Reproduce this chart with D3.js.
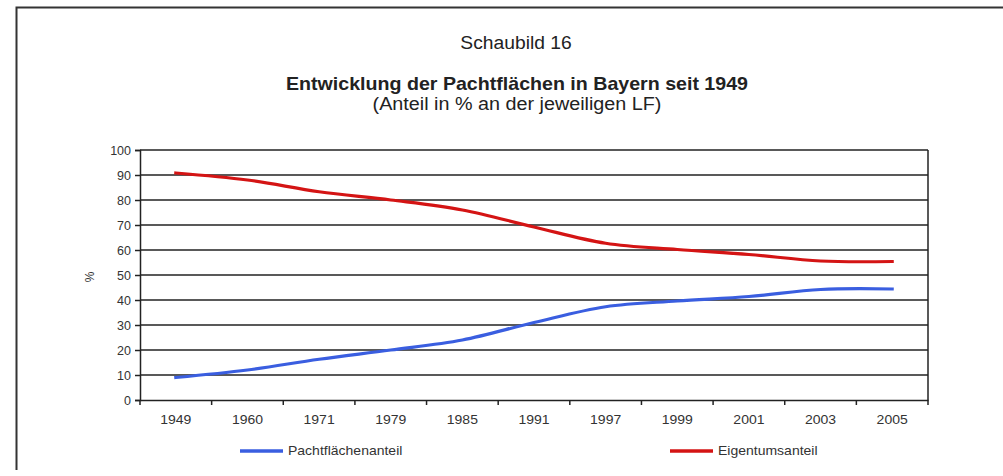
<!DOCTYPE html>
<html>
<head>
<meta charset="utf-8">
<script src="https://cdn.jsdelivr.net/npm/d3@7"></script>
<style>
  body { margin: 0; background: #fff; }
  svg { display: block; font-family: Arial, "Liberation Sans", sans-serif; }
</style>
</head>
<body>
<svg id="chart" width="1003" height="476"></svg>
<script>
var years = ['1949', '1960', '1971', '1979', '1985', '1991', '1997', '1999', '2001', '2003', '2005']
var pacht = [9, 12, 16.3, 20, 24, 31, 37.3, 39.6, 41.4, 44.2, 44.4]
var eigentum = [90.8, 88, 83.3, 80, 76, 69.2, 62.7, 60.2, 58.2, 55.6, 55.4]
var yTicks = [0, 10, 20, 30, 40, 50, 60, 70, 80, 90, 100]

var series = [
  {name: 'Pachtflächenanteil', values: pacht, color: '#3a5ee0'},
  {name: 'Eigentumsanteil', values: eigentum, color: '#d41414'}
]

var svg = d3.select('#chart')

// outer frame
svg.append('path')
  .attr('d', 'M 16.5 470 V 7.5 H 1003')
  .attr('fill', 'none').attr('stroke', '#333').attr('stroke-width', 2)

// the scanned original is a bit wider than tall, so stretch the text sideways
function wide(sel, sx){
  return sel.attr('transform', function(){
    var tx = +this.getAttribute('x') || 0
    var ty = +this.getAttribute('y') || 0
    return `translate(${tx},${ty}) scale(${sx},1)`
  }).attr('x', 0).attr('y', 0)
}

wide(svg.append('text').text('Schaubild 16')
  .attr('x', 516).attr('y', 49).attr('text-anchor', 'middle')
  .attr('font-size', 18).attr('fill', '#222'), 1.07)
wide(svg.append('text').text('Entwicklung der Pachtflächen in Bayern seit 1949')
  .attr('x', 517).attr('y', 90).attr('text-anchor', 'middle')
  .attr('font-size', 18).attr('font-weight', 'bold').attr('fill', '#222'), 1.09)
wide(svg.append('text').text('(Anteil in % an der jeweiligen LF)')
  .attr('x', 517).attr('y', 110).attr('text-anchor', 'middle')
  .attr('font-size', 17.5).attr('fill', '#222'), 1.13)

var m = {left: 140, right: 928, top: 150, bottom: 400}

var x = d3.scaleBand().domain(years).range([m.left, m.right])
var y = d3.scaleLinear().domain([0, 100]).range([m.bottom, m.top])

var g = svg.append('g')

// gridlines
g.selectAll('line.grid').data(yTicks.filter(d => d > 0)).join('line')
  .attr('class', 'grid')
  .attr('x1', m.left).attr('x2', m.right)
  .attr('y1', d => y(d)).attr('y2', d => y(d))
  .attr('stroke', '#222').attr('stroke-width', 1.5)

g.append('line')
  .attr('x1', m.right).attr('x2', m.right).attr('y1', m.top).attr('y2', m.bottom)
  .attr('stroke', '#222').attr('stroke-width', 1.5)

var yAxis = g.append('g')
  .attr('transform', `translate(${m.left},0)`)
  .call(d3.axisLeft(y).tickValues(yTicks).tickSize(5).tickPadding(4))
var xAxis = g.append('g')
  .attr('transform', `translate(0,${m.bottom})`)
  .call(d3.axisBottom(x).tickSize(0).tickPadding(15))

// category dividers below the axis, like the spreadsheet original
g.selectAll('line.xtick').data(d3.range(years.length + 1)).join('line')
  .attr('class', 'xtick')
  .attr('x1', i => m.left + i*x.step()).attr('x2', i => m.left + i*x.step())
  .attr('y1', m.bottom).attr('y2', m.bottom + 5)
  .attr('stroke', '#222').attr('stroke-width', 1.5)

;[yAxis, xAxis].forEach(a => {
  a.selectAll('.domain').attr('stroke', '#222').attr('stroke-width', 1.5)
  a.selectAll('.tick line').attr('stroke', '#222').attr('stroke-width', 1.5)
  a.selectAll('text').attr('font-size', 12.5).attr('fill', '#333')
    .attr('font-family', 'Arial, "Liberation Sans", sans-serif')
})
xAxis.selectAll('.tick text').attr('transform', 'scale(1.12,1)')

svg.append('text').text('%')
  .attr('transform', 'translate(94,277) rotate(-90)')
  .attr('text-anchor', 'middle').attr('font-size', 12).attr('fill', '#333')

var line = d3.line()
  .x((d, i) => x(years[i]) + x.bandwidth()/2)
  .y(d => y(d))
  .curve(d3.curveCatmullRom.alpha(0.5))

g.selectAll('path.series').data(series).join('path')
  .attr('class', 'series')
  .attr('d', d => line(d.values))
  .attr('fill', 'none')
  .attr('stroke', d => d.color)
  .attr('stroke-width', 3.2)
  .attr('stroke-linecap', 'square')

// legend
var legendX = [240, 670]
var lg = svg.selectAll('g.legend').data(series).join('g')
  .attr('class', 'legend')
  .attr('transform', (d, i) => `translate(${legendX[i]},451)`)
lg.append('line')
  .attr('x1', 0).attr('x2', 43)
  .attr('stroke', d => d.color).attr('stroke-width', 3.5)
lg.append('text').text(d => d.name)
  .attr('transform', 'translate(48,0) scale(1.12,1)')
  .attr('dy', '0.35em')
  .attr('font-size', 12.5).attr('fill', '#333')
</script>
</body>
</html>
